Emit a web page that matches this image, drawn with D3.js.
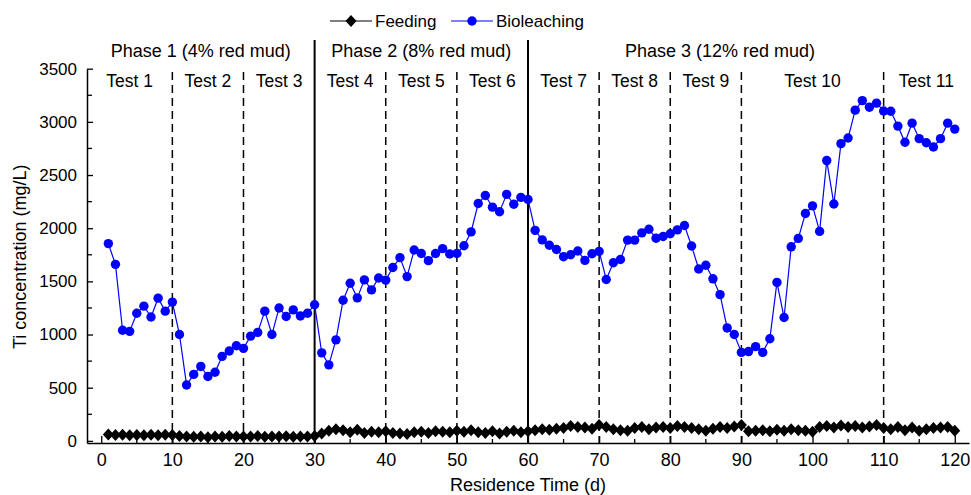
<!DOCTYPE html>
<html>
<head>
<meta charset="utf-8">
<script src="https://cdn.jsdelivr.net/npm/d3@7"></script>
<style>
  html, body { margin: 0; padding: 0; background: #fff; }
  svg { display: block; font-family: "Liberation Sans", Arial, sans-serif; }
</style>
</head>
<body>
<svg id="chart" width="971" height="495"></svg>
<script>
// ---- data ----
const days = d3.range(1, 121);
const bioleaching = [
  1855, 1660, 1040, 1030, 1200, 1267, 1165, 1342, 1220, 1305,
  1000, 525, 625, 700, 605, 645, 795, 845, 895, 870,
  985, 1020, 1220, 1000, 1250, 1170, 1232, 1175, 1200, 1280,
  828, 715, 950, 1322, 1482, 1345, 1514, 1420, 1532, 1512,
  1630, 1723, 1545, 1795, 1762, 1695, 1762, 1808, 1757, 1762,
  1835, 1965, 2232, 2308, 2198, 2155, 2318, 2225, 2290, 2270,
  1980, 1890, 1840, 1800, 1732, 1750, 1786, 1697, 1760, 1782,
  1518, 1675, 1706, 1888, 1888, 1956, 1990, 1906, 1922, 1948,
  1984, 2025, 1833, 1616, 1652, 1524, 1375, 1062, 1000, 832,
  840, 886, 832, 960, 1490, 1160, 1825, 1904, 2138, 2210,
  1970, 2636, 2228, 2795, 2848, 3110, 3200, 3138, 3176, 3102,
  3100, 2960, 2808, 2988, 2842, 2804, 2764, 2842, 2988, 2932
];
const feeding = [
  60, 55, 58, 52, 56, 54, 58, 53, 57, 55,
  45, 40, 38, 42, 35, 40, 38, 45, 40, 42,
  40, 45, 38, 42, 40, 44, 38, 42, 40, 45,
  70, 95, 110, 100, 80, 105, 75, 85, 80, 90,
  75, 70, 65, 80, 85, 75, 90, 85, 80, 95,
  85, 100, 80, 75, 90, 70, 85, 95, 80, 90,
  100, 110, 105, 115, 120, 140, 130, 125, 115, 150,
  130, 110, 100, 95, 120, 130, 110, 125, 130, 120,
  140, 130, 120, 110, 95, 115, 130, 120, 135, 150,
  90, 95, 100, 90, 105, 95, 110, 100, 95, 85,
  130, 140, 125, 145, 130, 140, 125, 135, 150, 120,
  110, 130, 100, 125, 95, 110, 120, 125, 130, 95
];
const xTicks = [0, 10, 20, 30, 40, 50, 60, 70, 80, 90, 100, 110, 120];
const yTicks = [0, 500, 1000, 1500, 2000, 2500, 3000, 3500];
const phaseBounds = [30, 60];
const testBounds = [10, 20, 40, 50, 70, 80, 90, 110];
const phaseLabels = ["Phase 1 (4% red mud)", "Phase 2 (8% red mud)", "Phase 3 (12% red mud)"];
const phaseLabelX = [14, 45, 87];
const testLabels = ["Test 1", "Test 2", "Test 3", "Test 4", "Test 5", "Test 6", "Test 7", "Test 8", "Test 9", "Test 10", "Test 11"];
const testLabelX = [4, 15, 25, 35, 45, 55, 65, 75, 85, 100, 116];
const seriesNames = ["Feeding", "Bioleaching"];

// ---- layout ----
const svg = d3.select("#chart");
const x = d3.scaleLinear().domain([-2, 122]).range([87, 969]);
const y = d3.scaleLinear().domain([-20, 3500]).range([443, 68.7]);

// vertical separators
svg.append("g").selectAll("line").data(testBounds).join("line")
  .attr("x1", d => x(d)).attr("x2", d => x(d))
  .attr("y1", 72).attr("y2", y(-20))
  .attr("stroke", "#000").attr("stroke-width", 1.5)
  .attr("stroke-dasharray", "8,5");
svg.append("g").selectAll("line").data(phaseBounds).join("line")
  .attr("x1", d => x(d)).attr("x2", d => x(d))
  .attr("y1", 40).attr("y2", y(-20))
  .attr("stroke", "#000").attr("stroke-width", 2);

// axes
const xAxis = d3.axisBottom(x).tickValues(xTicks).tickFormat(d3.format("d")).tickSize(-7).tickPadding(10).tickSizeOuter(0);
const gx = svg.append("g").attr("transform", `translate(0,${y(-20)})`).call(xAxis);
gx.selectAll(".tick text").attr("font-size", 18).attr("font-family", "Liberation Sans, Arial, sans-serif").attr("fill", "#000");
gx.select(".domain").attr("stroke", "#000").attr("stroke-width", 1.5);
gx.selectAll(".tick line").attr("stroke", "#000").attr("stroke-width", 1.3);
const xMinor = xTicks.slice(0, -1).map(d => d + 5);
svg.append("g").selectAll("line").data(xMinor).join("line")
  .attr("x1", d => x(d)).attr("x2", d => x(d))
  .attr("y1", y(-20)).attr("y2", y(-20) - 4)
  .attr("stroke", "#000").attr("stroke-width", 1.3);

const yAxis = d3.axisLeft(y).tickValues(yTicks).tickFormat(d3.format("d")).tickSize(-6).tickPadding(10).tickSizeOuter(0);
const gy = svg.append("g").attr("transform", `translate(${x(-2)},0)`).call(yAxis);
gy.selectAll(".tick text").attr("font-size", 17).attr("font-family", "Liberation Sans, Arial, sans-serif").attr("fill", "#000");
gy.select(".domain").attr("stroke", "#000").attr("stroke-width", 1.5);
gy.selectAll(".tick line").attr("stroke", "#000").attr("stroke-width", 1.3);
const yMinor = yTicks.slice(0, -1).map(d => d + 250);
svg.append("g").selectAll("line").data(yMinor).join("line")
  .attr("x1", x(-2)).attr("x2", x(-2) + 5)
  .attr("y1", d => y(d)).attr("y2", d => y(d))
  .attr("stroke", "#000").attr("stroke-width", 1.3);

// axis titles
svg.append("text").attr("x", x(60)).attr("y", 491).attr("text-anchor", "middle")
  .attr("font-size", 18).text("Residence Time (d)");
svg.append("text").attr("transform", `translate(26,${(y(0) + y(3500)) / 2 + 2}) rotate(-90)`)
  .attr("text-anchor", "middle").attr("font-size", 18).text("Ti concentration (mg/L)");

// phase / test labels
svg.append("g").selectAll("text").data(phaseLabels).join("text")
  .attr("x", (d, i) => x(phaseLabelX[i])).attr("y", 57)
  .attr("text-anchor", "middle").attr("font-size", 18).text(d => d);
svg.append("g").selectAll("text").data(testLabels).join("text")
  .attr("x", (d, i) => x(testLabelX[i])).attr("y", 87)
  .attr("text-anchor", "middle").attr("font-size", 17.5).text(d => d);

// series
const diamond = (cx, cy, w, h) => `M${cx},${cy - h}L${cx + w},${cy}L${cx},${cy + h}L${cx - w},${cy}Z`;
const feedData = days.map((d, i) => [d, feeding[i]]);
const bioData = days.map((d, i) => [d, bioleaching[i]]);
const line = d3.line().x(d => x(d[0])).y(d => y(d[1]));

svg.append("path").datum(feedData).attr("d", line)
  .attr("fill", "none").attr("stroke", "#000").attr("stroke-width", 1.2);
svg.append("g").selectAll("path").data(feedData).join("path")
  .attr("d", d => diamond(x(d[0]), y(d[1]), 5.5, 6))
  .attr("fill", "#000");

svg.append("path").datum(bioData).attr("d", line)
  .attr("fill", "none").attr("stroke", "#0000ff").attr("stroke-width", 1.2);
svg.append("g").selectAll("circle").data(bioData).join("circle")
  .attr("cx", d => x(d[0])).attr("cy", d => y(d[1])).attr("r", 4.7)
  .attr("fill", "#0000ff");

// legend
const lg = svg.append("g");
lg.append("line").attr("x1", 330).attr("x2", 372).attr("y1", 21).attr("y2", 21).attr("stroke", "#000").attr("stroke-width", 1.2);
lg.append("path").attr("d", diamond(351, 21, 5.5, 6)).attr("fill", "#000");
lg.append("text").attr("x", 375).attr("y", 27).attr("font-size", 17).text(seriesNames[0]);
lg.append("line").attr("x1", 451).attr("x2", 493).attr("y1", 21).attr("y2", 21).attr("stroke", "#0000ff").attr("stroke-width", 1.2);
lg.append("circle").attr("cx", 472).attr("cy", 21).attr("r", 4.7).attr("fill", "#0000ff");
lg.append("text").attr("x", 496).attr("y", 27).attr("font-size", 17).text(seriesNames[1]);
</script>
</body>
</html>
